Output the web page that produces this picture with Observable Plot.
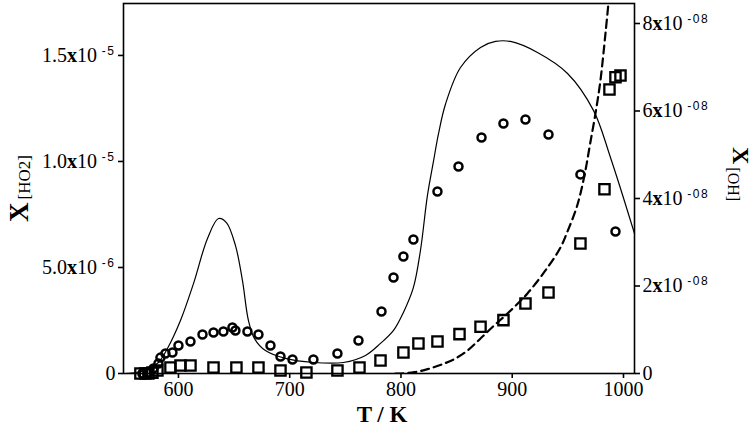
<!DOCTYPE html>
<html><head><meta charset="utf-8">
<script src="https://cdn.jsdelivr.net/npm/d3@7"></script>
<script src="https://cdn.jsdelivr.net/npm/@observablehq/plot@0.6"></script>
<style>body{margin:0;background:#fff}</style>
</head><body><div id="chart"></div>
<script>
// Model HO2 mole fraction (solid line, left axis)
const solidT = [552.4, 570.3, 582, 590.1, 601.8, 613.5, 626.1, 636, 643.1, 651.2, 657.5, 662.9, 668.3, 678.2, 696.2, 721.3, 748.3, 768.1, 781.6, 793.3, 802.2, 811.2, 817.5, 823.8, 829.2, 833.7, 840, 853.5, 871.5, 885, 898.4, 922.7, 949.7, 973, 988.3, 1009.9];
const solidHO2 = [0, 0.14e-6, 0.52e-6, 1.18e-6, 2.5e-6, 4.24e-6, 6.37e-6, 7.31e-6, 7.12e-6, 6.04e-6, 4.39e-6, 2.5e-6, 1.65e-6, 1.08e-6, 0.71e-6, 0.52e-6, 0.52e-6, 0.85e-6, 1.42e-6, 2.03e-6, 2.88e-6, 4.06e-6, 5.8e-6, 8.4e-6, 10.0e-6, 11.3e-6, 12.7e-6, 14.43e-6, 15.38e-6, 15.66e-6, 15.66e-6, 15.14e-6, 14.15e-6, 12.41e-6, 10.19e-6, 6.6e-6];
// Model OH mole fraction (dashed line, right axis)
const dashT = [795, 800, 812, 824, 836, 848, 860, 871.5, 883, 895.7, 913.7, 931.7, 943.4, 949.7, 956.9, 961.3, 965.8, 970, 974.8, 979.3, 983.8, 987];
const dashOH = [0, 0, 0.3e-9, 1.0e-9, 2.0e-9, 3.3e-9, 5.3e-9, 8.0e-9, 10.8e-9, 13.7e-9, 18.3e-9, 24.2e-9, 28.8e-9, 32.5e-9, 37.2e-9, 41.1e-9, 46.4e-9, 52.5e-9, 59.4e-9, 67.0e-9, 77.7e-9, 86e-9];
// Measured HO2 (circles, left axis)
const circT = [567.6, 573, 577.5, 582, 583.8, 588.3, 594.6, 600, 610.8, 621.6, 631.5, 640.4, 648.5, 651.2, 662, 671.9, 682.7, 691.7, 702.5, 721.3, 742.9, 761.8, 782.5, 793.3, 802.2, 811.2, 832.8, 851.7, 872.4, 892.1, 911.9, 932.6, 961.3, 992.8];
const circHO2 = [0, 0.05e-6, 0.24e-6, 0.47e-6, 0.75e-6, 0.94e-6, 0.99e-6, 1.32e-6, 1.51e-6, 1.84e-6, 1.93e-6, 1.98e-6, 2.17e-6, 2.03e-6, 1.98e-6, 1.84e-6, 1.32e-6, 0.80e-6, 0.66e-6, 0.66e-6, 0.94e-6, 1.56e-6, 2.92e-6, 4.53e-6, 5.52e-6, 6.32e-6, 8.58e-6, 9.76e-6, 11.13e-6, 11.79e-6, 11.98e-6, 11.27e-6, 9.39e-6, 6.70e-6];
// Measured OH (squares, right axis)
const sqT = [565.8, 570, 573, 576.6, 581.1, 592.8, 601.8, 610.8, 631.5, 652.1, 671.9, 691.7, 715, 742.9, 762.7, 781.6, 802.2, 815.7, 832.8, 852.6, 871.5, 892.1, 911.9, 932.6, 961.3, 982.9, 987.4, 992.8, 997.3];
const sqOH = [0, 0, 0, 0.2e-9, 0.69e-9, 1.37e-9, 1.83e-9, 1.83e-9, 1.37e-9, 1.37e-9, 1.37e-9, 0.69e-9, 0.23e-9, 0.69e-9, 1.37e-9, 2.97e-9, 4.8e-9, 6.86e-9, 7.3e-9, 9.0e-9, 10.7e-9, 12.2e-9, 16.0e-9, 18.5e-9, 29.7e-9, 42.1e-9, 64.9e-9, 67.7e-9, 68.1e-9];

const xTicks = [600, 700, 800, 900, 1000];
const yLeftTicks = [0, 5e-6, 1e-5, 1.5e-5];
const yLeftLabels = ["0", "5.0|-6", "1.0|-5", "1.5|-5"];
const yRightTicks = [0, 2e-8, 4e-8, 6e-8, 8e-8];
const yRightLabels = ["0", "2|-08", "4|-08", "6|-08", "8|-08"];

const xDomain = [550.6, 1009.9];
const leftMax = 1.745e-5, rightMax = 8.457e-8;
const k = leftMax / rightMax;

const solid = solidT.map((T, i) => ({T, v: solidHO2[i]}));
const dash = dashT.map((T, i) => ({T, v: dashOH[i] * k}));
const circ = circT.map((T, i) => ({T, v: circHO2[i]}));
const sq = sqT.map((T, i) => ({T, v: sqOH[i] * k}));
const rightPos = yRightTicks.map(v => v * k);

function nearestLabel(ticks, labels, d) {
  let bi = 0, bd = Infinity;
  ticks.forEach((t, i) => { const dd = Math.abs(t - d); if (dd < bd) { bd = dd; bi = i; } });
  return labels[bi];
}

const chart = Plot.plot({
  width: 756, height: 434,
  marginLeft: 123, marginRight: 122, marginTop: 3, marginBottom: 61,
  x: {domain: xDomain},
  y: {domain: [0, leftMax]},
  style: {fontFamily: "'Liberation Serif', 'Times New Roman', serif", fontSize: "20px", color: "#000", background: "#fff"},
  marks: [
    Plot.line(solid, {x: "T", y: "v", curve: "catmull-rom", stroke: "#000", strokeWidth: 1.2}),
    Plot.line(dash, {x: "T", y: "v", curve: "catmull-rom", stroke: "#000", strokeWidth: 2.2, strokeDasharray: "8,5", clip: true}),
    Plot.dot(circ, {x: "T", y: "v", r: 4, stroke: "#000", strokeWidth: 2.5, fill: "none"}),
    Plot.dot(sq, {x: "T", y: "v", symbol: "square", r: 5.8, stroke: "#000", strokeWidth: 2.3, fill: "none"}),
    Plot.frame({stroke: "#000", strokeWidth: 1.6}),
    Plot.axisX(xTicks, {tickSize: 5, tickPadding: 3, strokeWidth: 1.6, tickFormat: d => String(d), label: null}),
    Plot.axisY(yLeftTicks, {anchor: "left", tickSize: 5, tickPadding: 3, strokeWidth: 1.6, tickFormat: d => nearestLabel(yLeftTicks, yLeftLabels, d), label: null}),
    Plot.axisY(rightPos, {anchor: "right", tickSize: 5, tickPadding: 3, strokeWidth: 1.6, tickFormat: d => nearestLabel(rightPos, yRightLabels, d), label: null})
  ]
});

const svg = d3.select(chart);
svg.selectAll("text").each(function() {
  const t = d3.select(this);
  const s = t.text();
  if (!s.includes("|")) return;
  const [m, e] = s.split("|");
  t.text(null);
  t.append("tspan").text(m);
  t.append("tspan").attr("font-weight", "bold").text("x");
  t.append("tspan").text("10");
  t.append("tspan").attr("font-size", 12).attr("font-family", "'Liberation Sans', Arial, sans-serif")
    .attr("dy", "-0.6em").attr("letter-spacing", "1.5").text(" " + e);
});

// Axis titles
svg.append("text").attr("x", 382).attr("y", 422).attr("text-anchor", "middle")
  .attr("font-family", "'Liberation Serif', serif").attr("font-weight", "bold").attr("font-size", 23).text("T / K");

const lt = svg.append("text").attr("transform", "translate(28,222) rotate(-90)")
  .attr("font-family", "'Liberation Serif', serif").attr("text-anchor", "start");
lt.append("tspan").attr("font-weight", "bold").attr("font-size", 27).text("X");
lt.append("tspan").attr("font-size", 17).attr("dx", 3).attr("dy", 2).text("[HO2]");

const rt = svg.append("text").attr("transform", "translate(733,147) rotate(90)")
  .attr("font-family", "'Liberation Serif', serif").attr("text-anchor", "start");
rt.append("tspan").attr("font-weight", "bold").attr("font-size", 24).text("X");
rt.append("tspan").attr("font-size", 16).attr("dx", 3).attr("dy", 5).text("[OH]");

document.getElementById("chart").append(chart);
</script>
</body></html>
